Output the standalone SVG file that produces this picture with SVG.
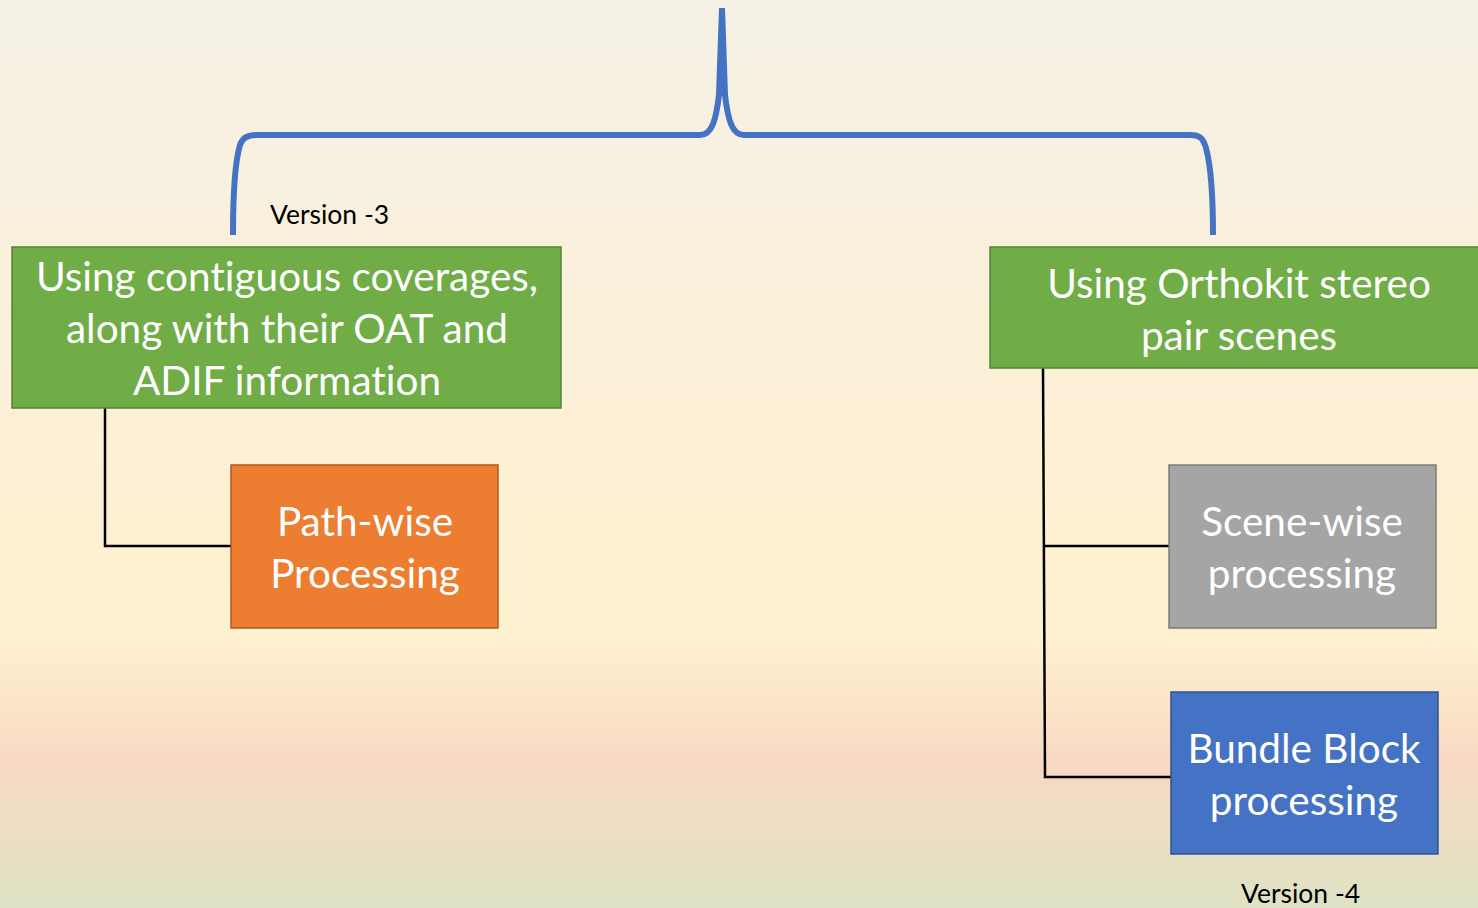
<svg xmlns="http://www.w3.org/2000/svg" width="1478" height="908" viewBox="0 0 1478 908">
<defs>
<linearGradient id="bg" x1="0" y1="0" x2="0" y2="1">
<stop offset="0" stop-color="#f5f1e6"/>
<stop offset="0.4" stop-color="#fbf0d8"/>
<stop offset="0.7" stop-color="#fef1cf"/>
<stop offset="0.84" stop-color="#f8d9c3"/>
<stop offset="1" stop-color="#dee2c4"/>
</linearGradient>
<style>
.box{stroke-width:1.5}
.t{font-family:Lato,"Open Sans","Liberation Sans",sans-serif;fill:#ffffff;text-anchor:middle;font-size:40.5px;font-variant-ligatures:none}
.v{font-family:Lato,"Open Sans","Liberation Sans",sans-serif;fill:#000;font-size:26.5px;font-variant-ligatures:none}
.conn{fill:none;stroke:#000;stroke-width:2.5}
.brace{fill:none;stroke:#4472c4;stroke-width:6}
</style>
</defs>
<rect width="1478" height="908" fill="url(#bg)"/>
<g id="connectors">
<path class="brace" d="M233 235 C233 200 234 165 240 145 C243 137 248 135 258 135 L700 135 C712 135 716 120 719 95 L722 8 M722 8 L725 95 C728 120 732 135 744 135 L1190 135 C1200 135 1203 138 1206 148 C1212 170 1213 200 1213 235"/>
<path class="conn" d="M105 408 L105 546 L231 546"/>
<path class="conn" d="M1043 368 L1045 777 L1171 777 M1044 546 L1169 546"/>
</g>
<g id="n-version3"><text class="v" x="270" y="224">Version -3</text></g>
<g id="n-contiguous">
<rect class="box" x="12" y="247" width="549" height="161" fill="#70ad47" stroke="#548235"/>
<text class="t" x="287" y="291">Using contiguous coverages,</text>
<text class="t" x="287" y="343">along with their OAT and</text>
<text class="t" x="287" y="395">ADIF information</text>
</g>
<g id="n-orthokit">
<rect class="box" x="990" y="247" width="492" height="121" fill="#70ad47" stroke="#548235"/>
<text class="t" x="1239" y="298">Using Orthokit stereo</text>
<text class="t" x="1239" y="350">pair scenes</text>
</g>
<g id="n-pathwise">
<rect class="box" x="231" y="465" width="267" height="163" fill="#ed7d31" stroke="#ae5a21"/>
<text class="t" x="365" y="536">Path-wise</text>
<text class="t" x="365" y="588">Processing</text>
</g>
<g id="n-scenewise">
<rect class="box" x="1169" y="465" width="267" height="163" fill="#a5a5a5" stroke="#7b7b7b"/>
<text class="t" x="1302" y="536">Scene-wise</text>
<text class="t" x="1302" y="588">processing</text>
</g>
<g id="n-bundle">
<rect class="box" x="1171" y="692" width="267" height="162" fill="#4472c4" stroke="#2f528f"/>
<text class="t" x="1304" y="763">Bundle Block</text>
<text class="t" x="1304" y="815">processing</text>
</g>
<g id="n-version4"><text class="v" x="1241" y="903">Version -4</text></g>
</svg>
